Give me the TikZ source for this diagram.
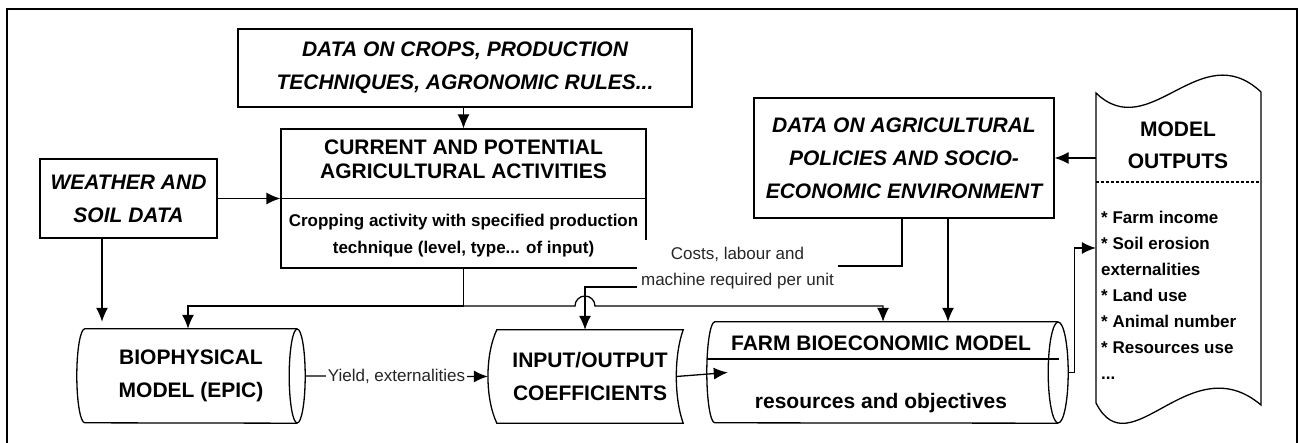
\documentclass[tikz,border=0pt]{standalone}
\usepackage{fontspec}
\setmainfont{Liberation Sans}
\usetikzlibrary{arrows.meta}
\begin{document}
\begin{tikzpicture}[x=1pt,y=-1pt,
  ln/.style={line width=1.3pt},
  arr/.style={ln,-{Latex[length=14pt,width=12pt]}},
  box/.style={draw,ln,inner sep=0pt},
  ital/.style={font={\fontsize{21}{33}\selectfont\bfseries\itshape},align=center},
  bld/.style={font={\fontsize{21}{33}\selectfont\bfseries},align=center},
  small/.style={font={\fontsize{17}{27}\selectfont\bfseries},align=center},
  lbl/.style={font={\fontsize{17}{26}\selectfont},align=center,text=black!85},
  shp/.style={inner sep=0pt}
]
\useasboundingbox (0,0) rectangle (1301,443);
% frame
\draw[ln] (7,443) -- (7,9) -- (1297,9) -- (1297,443);

% boxes
\node[box, ital, minimum width=454, minimum height=78] (crops) at (465,68) {DATA ON CROPS, PRODUCTION\\TECHNIQUES, AGRONOMIC RULES...};
\node[box, ital, minimum width=177, minimum height=79] (wea) at (128.5,198.5) {WEATHER AND\\SOIL DATA};
\node[box, minimum width=365, minimum height=139] (cur) at (463.5,198.5) {};
\draw[ln] (cur.west) -- (cur.east);
\node[bld, font={\fontsize{21}{24}\selectfont\bfseries}] (curT) at (463.5,159) {CURRENT AND POTENTIAL\\AGRICULTURAL ACTIVITIES};
\node[small] (curB) at (463.5,235.5) {Cropping activity with specified production\\technique (level, type... of input)};
\node[box, ital, minimum width=300, minimum height=120] (pol) at (904,158) {DATA ON AGRICULTURAL\\POLICIES AND SOCIO-\\ECONOMIC ENVIRONMENT};

% biophysical cylinder
\node[bld, shp, minimum width=212, minimum height=94] (bio) at (191,376) {BIOPHYSICAL\\MODEL (EPIC)};
\draw[ln] (bio.north east) -- (bio.north west) arc[start angle=90,end angle=270,x radius=8pt,y radius=47pt] -- (bio.south east);
\draw[ln] (bio.east) ellipse[x radius=8pt,y radius=47pt];

% input/output
\node[bld, shp, minimum width=186, minimum height=93] (io) at (590,376.5) {INPUT/OUTPUT\\COEFFICIENTS};
\draw[ln] (io.north west) -- (io.north east) .. controls (674,355) and (674,398) .. (io.south east) -- (io.south west) .. controls (485,398) and (485,355) .. (io.north west) -- cycle;

% farm cylinder
\node[shp, minimum width=343, minimum height=101] (farm) at (886.5,372.5) {};
\draw[ln] (farm.north east) -- (farm.north west) arc[start angle=90,end angle=270,x radius=8pt,y radius=50.5pt] -- (farm.south east);
\draw[ln] (farm.east) ellipse[x radius=10pt,y radius=50.5pt];
\draw[ln] (707.3,359) -- (1059,359);
\node[bld] (farmT) at (881,343) {FARM BIOECONOMIC MODEL};
\node[bld] (farmB) at (881,403) {resources and objectives};

% model outputs document
\node[shp, minimum width=165, minimum height=310] (mo) at (1178.5,248) {};
\draw[ln] (1096,93) .. controls (1150,145) and (1200,35) .. (1261,92) -- (1261,405) .. controls (1190,345) and (1130,470) .. (1096,403) -- cycle;
\draw[ln, dash pattern=on 3pt off 2pt] (1096,182) -- (1261,182);
\node[bld, font={\fontsize{21}{32}\selectfont\bfseries}] (moT) at (1178,145) {MODEL\\OUTPUTS};
\node[font={\fontsize{17}{26}\selectfont\bfseries}, align=left, anchor=west, inner sep=0pt] (moL) at (1101,295) {* Farm income\\* Soil erosion\\externalities\\* Land use\\* Animal number\\* Resources use\\...};

% costs label (covers box corner)
\node[lbl, fill=white, inner sep=0pt, minimum width=201, minimum height=56] (costs) at (737.5,268) {Costs, labour and\\machine required per unit};

% connectors
\draw[arr] (crops.south -| cur.north) -- (cur.north);
\draw[arr] (wea.east) -- (cur.west);
\coordinate (w1) at ([xshift=-26.5pt]wea.south);
\draw[arr, shorten >=7pt] (w1) -- (w1 |- bio.north);
\coordinate (jn) at (463.5,306);
\draw[ln] (cur.south) -- (jn);
\draw[arr] (jn) -| ([xshift=-3pt]bio.north);
\draw[arr] (jn) -- (575,306) arc[start angle=180,end angle=0,radius=10pt] -| ([xshift=-3.5pt]farm.north);
\coordinate (p1) at ([xshift=44pt]pol.south);
\draw[arr] (p1) -- (p1 |- farm.north);
\coordinate (p2) at ([xshift=-2pt]pol.south);
\draw[ln] (p2) |- ([yshift=2pt]costs.east);
\draw[arr] ([yshift=-19pt]costs.west) -| ([xshift=-5pt]io.north);
\draw[arr] ([xshift=8pt]bio.east) -- node[lbl, fill=white, inner sep=2pt] (yl) {Yield, externalities} ([xshift=-9pt]io.west);
\draw[arr] ([xshift=-7pt]io.east) -- ([xshift=13pt]farm.west);
\draw[arr] ([xshift=10pt]farm.east) -- ++(6,0) |- (mo.west);
\draw[arr] (mo.west |- pol.east) -- (pol.east);
\end{tikzpicture}
\end{document}
